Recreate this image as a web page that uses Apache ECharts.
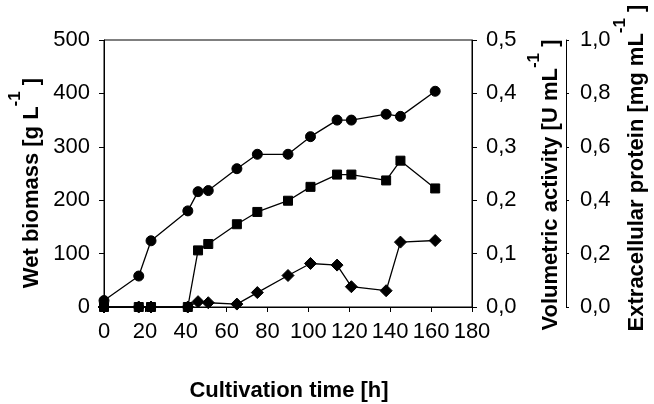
<!DOCTYPE html>
<html>
<head>
<meta charset="utf-8">
<script src="https://cdn.jsdelivr.net/npm/echarts@6/dist/echarts.min.js"></script>
<style>
html,body{margin:0;padding:0;background:#fff;}
#c{width:654px;height:404px;}
</style>
</head>
<body>
<div id="c"></div>
<script>
// Data
var time = [0, 17, 23, 41, 46, 51, 65, 75, 90, 101, 114, 121, 138, 145, 162];
var wetBiomass = [12, 58, 124, 180, 216, 218, 259, 286, 286, 319, 350, 350, 361, 357, 404];
var volumetricActivity = [0, 0, 0, 0, 0.106, 0.118, 0.155, 0.178, 0.199, 0.225, 0.248, 0.248, 0.237, 0.274, 0.222];
var extracellularProtein = [0, 0, 0, 0, 0.020, 0.016, 0.011, 0.054, 0.118, 0.163, 0.157, 0.076, 0.061, 0.243, 0.249];

var xTitle = 'Cultivation time [h]';
var yTitleLeft = ['Wet biomass [g L', '-1', ' ]'];
var yTitleRight1 = ['Volumetric activity [U mL', '-1', ' ]'];
var yTitleRight2 = ['Extracellular protein [mg mL', '-1', ' ]'];

function pairs(xs, ys) { return xs.map(function (x, i) { return [x, ys[i]]; }); }
function comma(v) { return v.toFixed(1).replace('.', ','); }

var FONT = 'Liberation Sans, Arial, sans-serif';
var TICK_FS = 22;
var TITLE_FS = 22;
var black = '#000';

var richTitle = {
  b: { fontSize: TITLE_FS, fontWeight: 'bold', fontFamily: FONT, fill: black, color: black, lineHeight: 50 },
  s: { fontSize: 17, fontWeight: 'bold', fontFamily: FONT, fill: black, color: black, lineHeight: 17, verticalAlign: 'top' }
};
function titleText(parts) { return '{b|' + parts[0] + '}{s|' + parts[1] + '}{b|' + parts[2] + '}'; }

function yAxisCommon() {
  return {
    type: 'value',
    splitLine: { show: false },
    axisLine: { show: true, lineStyle: { color: black, width: 1 } },
    axisTick: { show: true, length: 5, lineStyle: { color: black } },
    axisLabel: { color: black, fontSize: TICK_FS, fontFamily: FONT, margin: 14 }
  };
}

var y0 = yAxisCommon();
y0.position = 'left'; y0.min = 0; y0.max = 500; y0.interval = 100;

var y1 = yAxisCommon();
y1.position = 'right'; y1.min = 0; y1.max = 0.5; y1.interval = 0.1;
y1.axisLabel.formatter = comma;

var y2 = yAxisCommon();
y2.position = 'right'; y2.offset = 94; y2.min = 0; y2.max = 1; y2.interval = 0.2;
y2.axisTick.length = 3;
y2.axisLabel.formatter = comma;

var lineStyle = { color: black, width: 1.3 };
var itemStyle = { color: black, borderColor: black };

var chart = echarts.init(document.getElementById('c'), null, { renderer: 'canvas' });
chart.setOption({
  animation: false,
  backgroundColor: '#fff',
  grid: { left: 104, right: 182, top: 40, bottom: 97, show: true, borderColor: black, borderWidth: 1, backgroundColor: 'transparent' },
  xAxis: {
    type: 'value', min: 0, max: 180, interval: 20,
    splitLine: { show: false },
    axisLine: { show: true, onZero: false, lineStyle: { color: black, width: 1 } },
    axisTick: { show: true, length: 5, lineStyle: { color: black } },
    axisLabel: { color: black, fontSize: TICK_FS, fontFamily: FONT, margin: 14 }
  },
  yAxis: [y0, y1, y2],
  series: [
    { type: 'line', yAxisIndex: 0, data: pairs(time, wetBiomass), symbol: 'circle', symbolSize: 10, lineStyle: lineStyle, itemStyle: itemStyle, z: 3 },
    { type: 'line', yAxisIndex: 1, data: pairs(time, volumetricActivity), symbol: 'rect', symbolSize: 9, lineStyle: lineStyle, itemStyle: itemStyle, z: 2 },
    { type: 'line', yAxisIndex: 2, data: pairs(time, extracellularProtein), symbol: 'diamond', symbolSize: 12, lineStyle: lineStyle, itemStyle: itemStyle, z: 2 }
  ],
  graphic: [
    { type: 'text', x: 289, y: 391, style: { text: xTitle, fill: black, font: 'bold ' + TITLE_FS + 'px ' + FONT, align: 'center', verticalAlign: 'middle' } },
    { type: 'text', x: 32, y: 183, rotation: Math.PI / 2, style: { text: titleText(yTitleLeft), rich: richTitle, fill: black, font: 'bold ' + TITLE_FS + 'px ' + FONT, align: 'center', verticalAlign: 'middle' } },
    { type: 'text', x: 551, y: 185, rotation: Math.PI / 2, style: { text: titleText(yTitleRight1), rich: richTitle, fill: black, font: 'bold ' + TITLE_FS + 'px ' + FONT, align: 'center', verticalAlign: 'middle' } },
    { type: 'text', x: 637, y: 168, rotation: Math.PI / 2, style: { text: titleText(yTitleRight2), rich: richTitle, fill: black, font: 'bold ' + TITLE_FS + 'px ' + FONT, align: 'center', verticalAlign: 'middle' } }
  ]
});
</script>
</body>
</html>
